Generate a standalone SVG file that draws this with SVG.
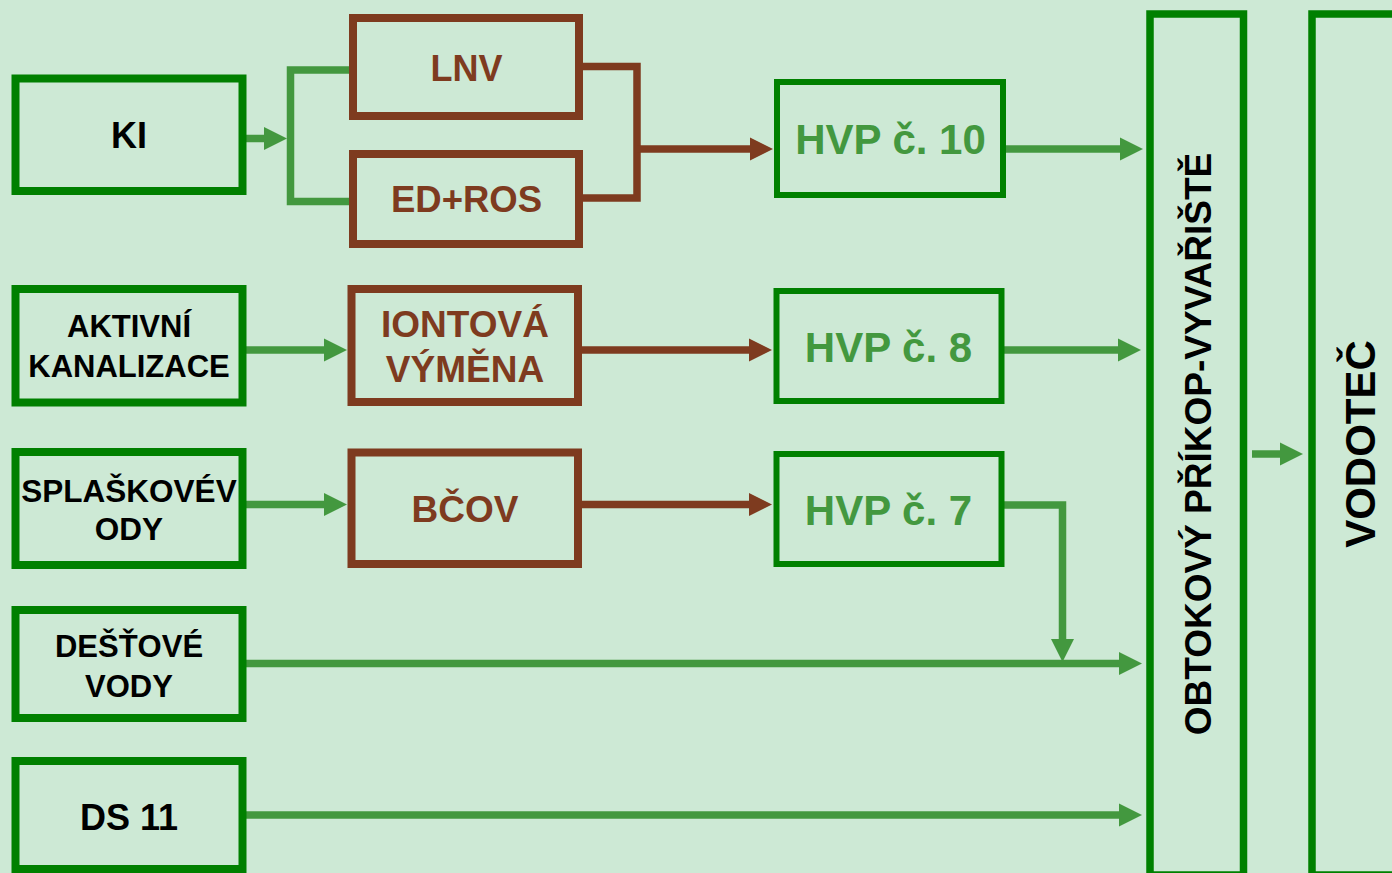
<svg xmlns="http://www.w3.org/2000/svg" width="1392" height="873" viewBox="0 0 1392 873">
<style>
.src{fill:none;stroke:#008000;stroke-width:8}
.hvp{fill:none;stroke:#008000;stroke-width:6}
.big{fill:none;stroke:#008000;stroke-width:7.5}
.prc{fill:none;stroke:#7E3B1F;stroke-width:8}
.g{fill:none;stroke:#43983F;stroke-width:7.5}
.b{fill:none;stroke:#7E3B1F;stroke-width:7.5}
text{font-family:"Liberation Sans",Arial,sans-serif;font-weight:bold;text-anchor:middle}
.tk{fill:#000}
.tb{fill:#7E3B1F}
.tg{fill:#43983F}
</style>
<defs>
<marker id="ag" markerUnits="userSpaceOnUse" markerWidth="23" markerHeight="23" refX="0" refY="11.5" orient="auto" overflow="visible"><path d="M0,0 L23,11.5 L0,23 z" fill="#43983F"/></marker>
<marker id="ab" markerUnits="userSpaceOnUse" markerWidth="23" markerHeight="23" refX="0" refY="11.5" orient="auto" overflow="visible"><path d="M0,0 L23,11.5 L0,23 z" fill="#7E3B1F"/></marker>
</defs>
<rect width="1392" height="873" fill="#CDE9D5"/>

<g id="connectors">
<path class="g" d="M246,138.5 H264" marker-end="url(#ag)"/>
<path class="g" d="M349,70 H290.5 V201.5 H349"/>
<path class="g" d="M246,350 H324" marker-end="url(#ag)"/>
<path class="g" d="M246,504.5 H324" marker-end="url(#ag)"/>
<path class="b" d="M579,66.5 H637 V198 H579"/>
<path class="b" d="M637,149 H750" marker-end="url(#ab)"/>
<path class="b" d="M578,350 H749" marker-end="url(#ab)"/>
<path class="b" d="M578,504.5 H749" marker-end="url(#ab)"/>
<path class="g" d="M1006,149 H1120" marker-end="url(#ag)"/>
<path class="g" d="M1003,350 H1118" marker-end="url(#ag)"/>
<path class="g" d="M1003,505 H1062.5 V639" marker-end="url(#ag)"/>
<path class="g" d="M246,663.5 H1119" marker-end="url(#ag)"/>
<path class="g" d="M246,815 H1119" marker-end="url(#ag)"/>
<path class="g" d="M1252,454 H1280" marker-end="url(#ag)"/>
</g>

<g id="ki"><rect class="src" x="15.5" y="78.5" width="227" height="112.5"/><text class="tk" x="129" y="148" font-size="36">KI</text></g>
<g id="aktivni"><rect class="src" x="15.5" y="289" width="227" height="113.5"/><text class="tk" x="129" y="337" font-size="31">AKTIVNÍ</text><text class="tk" x="129" y="377" font-size="31">KANALIZACE</text></g>
<g id="splaskove"><rect class="src" x="15.5" y="452" width="227" height="113"/><text class="tk" x="129" y="501.5" font-size="31.5">SPLAŠKOVÉV</text><text class="tk" x="129" y="540" font-size="31.5">ODY</text></g>
<g id="destove"><rect class="src" x="15.5" y="610" width="227" height="108"/><text class="tk" x="129" y="657" font-size="31">DEŠŤOVÉ</text><text class="tk" x="129" y="697" font-size="31">VODY</text></g>
<g id="ds11"><rect class="src" x="15.5" y="761" width="227" height="108"/><text class="tk" x="129" y="830" font-size="36">DS 11</text></g>

<g id="lnv"><rect class="prc" x="353" y="18" width="226" height="98"/><text class="tb" x="466.5" y="81" font-size="36">LNV</text></g>
<g id="edros"><rect class="prc" x="353" y="154" width="226" height="90"/><text class="tb" x="466.5" y="212" font-size="36.5">ED+ROS</text></g>
<g id="iontova"><rect class="prc" x="351.5" y="289" width="226.5" height="113"/><text class="tb" x="465" y="337" font-size="37">IONTOVÁ</text><text class="tb" x="465" y="382" font-size="37">VÝMĚNA</text></g>
<g id="bcov"><rect class="prc" x="351.5" y="452.5" width="226.5" height="111.5"/><text class="tb" x="465" y="522" font-size="37">BČOV</text></g>

<g id="hvp10"><rect class="hvp" x="777" y="82" width="226" height="113"/><text class="tg" x="890.5" y="153.5" font-size="42">HVP č. 10</text></g>
<g id="hvp8"><rect class="hvp" x="776.5" y="291" width="225" height="110"/><text class="tg" x="888.5" y="362" font-size="42">HVP č. 8</text></g>
<g id="hvp7"><rect class="hvp" x="776.5" y="454" width="225" height="110"/><text class="tg" x="888.5" y="525" font-size="42">HVP č. 7</text></g>

<g id="obtokovy"><rect class="big" x="1150" y="14" width="93.5" height="861"/><text class="tk" transform="translate(1211,444) rotate(-90)" font-size="37">OBTOKOVÝ PŘÍKOP-VYVAŘIŠTĚ</text></g>
<g id="vodotec"><rect class="big" x="1312" y="14" width="100" height="861"/><text class="tk" transform="translate(1375,444) rotate(-90)" font-size="42">VODOTEČ</text></g>
</svg>
